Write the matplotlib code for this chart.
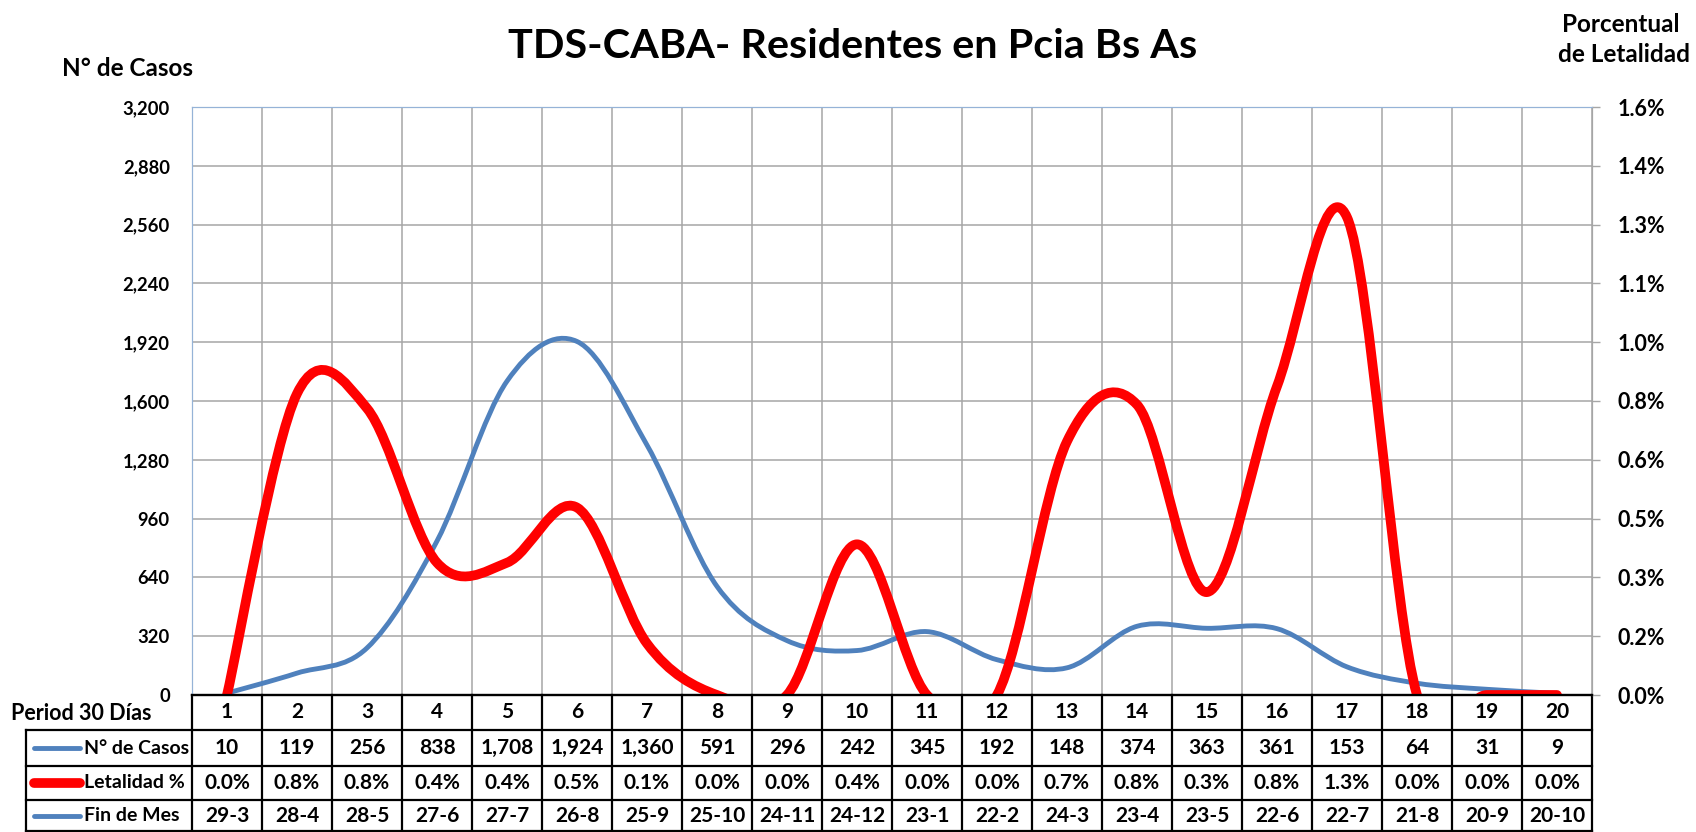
import matplotlib
matplotlib.use("Agg")
import matplotlib.pyplot as plt
from matplotlib.path import Path
from matplotlib.patches import PathPatch
from matplotlib.lines import Line2D
from matplotlib.transforms import blended_transform_factory
from matplotlib.ticker import FuncFormatter, FixedLocator
import numpy as np

plt.rcParams['font.family'] = ['Lato', 'DejaVu Sans']
plt.rcParams['font.weight'] = 'bold'

# ---------------- data ----------------
periods = list(range(1, 21))
casos = [10, 119, 256, 838, 1708, 1924, 1360, 591, 296, 242, 345, 192, 148, 374, 363, 361, 153, 64, 31, 9]
letalidad = [0.0, 0.82, 0.78, 0.36, 0.36, 0.51, 0.14, 0.0, 0.0, 0.41, 0.0, 0.0, 0.69, 0.79, 0.28, 0.84, 1.30, 0.0, 0.0, 0.0]
fin_de_mes = ["29-3", "28-4", "28-5", "27-6", "27-7", "26-8", "25-9", "25-10", "24-11", "24-12",
              "23-1", "22-2", "24-3", "23-4", "23-5", "22-6", "22-7", "21-8", "20-9", "20-10"]
left_ticks = [0, 320, 640, 960, 1280, 1600, 1920, 2240, 2560, 2880, 3200]
right_ticks = list(np.linspace(0, 1.6, 11))

title = "TDS-CABA- Residentes en Pcia Bs As"
row_labels = ["N° de Casos", "Letalidad %", "Fin de Mes"]

BLUE = "#4F81BD"
RED = "#FF0000"
GRID = "#A6A6A6"
SPINE_BLUE = "#95B3D7"

W, H = 1696, 832
fig = plt.figure(figsize=(W / 100, H / 100), dpi=100)

L, R, T, B = 192, 1592, 107, 695
ax1 = fig.add_axes([L / W, 1 - B / H, (R - L) / W, (B - T) / H])
ax2 = ax1.twinx()


def smooth_path(xs, ys):
    n = len(xs)
    verts = [(xs[0], ys[0])]
    codes = [Path.MOVETO]
    for i in range(n - 1):
        a = i - 1 if i > 0 else i
        d = i + 2 if i + 2 < n else i + 1
        c1 = (xs[i] + (xs[i + 1] - xs[a]) / 6, ys[i] + (ys[i + 1] - ys[a]) / 6)
        c2 = (xs[i + 1] - (xs[d] - xs[i]) / 6, ys[i + 1] - (ys[d] - ys[i]) / 6)
        verts += [c1, c2, (xs[i + 1], ys[i + 1])]
        codes += [Path.CURVE4] * 3
    return Path(verts, codes)


ax1.set_xlim(0.5, 20.5)
ax1.set_ylim(0, 3200)
ax2.set_ylim(0, 1.6)

ax1.add_patch(PathPatch(smooth_path(periods, casos), fill=False, edgecolor=BLUE,
                        lw=3.5, capstyle='round', joinstyle='round', zorder=3))
ax2.add_patch(PathPatch(smooth_path(periods, letalidad), fill=False, edgecolor=RED,
                        lw=7.0, capstyle='round', joinstyle='round', zorder=3))

# grid
ax1.xaxis.set_major_locator(FixedLocator(np.arange(0.5, 21, 1.0)))
ax1.set_xticklabels([])
ax1.tick_params(axis='x', length=0)
ax1.set_yticks(left_ticks)
ax1.yaxis.set_major_formatter(FuncFormatter(lambda v, p: f"{int(v):,}"))
ax1.grid(True, color=GRID, lw=1.1)
ax1.set_axisbelow(True)
ax1.tick_params(axis='y', length=0, pad=16, labelsize=13.2)

ax2.set_yticks(right_ticks)
ax2.yaxis.set_major_formatter(FuncFormatter(lambda v, p: f"{v:.1f}%"))
ax2.tick_params(axis='y', length=6, width=1, color=GRID, pad=12.5, labelsize=15.5)

for ax in (ax1, ax2):
    ax.spines['left'].set_color(SPINE_BLUE)
    ax.spines['top'].set_color(SPINE_BLUE)
    ax.spines['right'].set_color(GRID)
    ax.spines['bottom'].set_color('black')
    ax.spines['bottom'].set_linewidth(1.5)

# ---------------- data table ----------------
trans = blended_transform_factory(ax1.transData, fig.transFigure)
fy = lambda y: 1 - y / H
fx = lambda x: x / W
rows_y = [695, 730, 766, 800, 831]
lab_left = 26
lw_t = 1.6

fig.add_artist(Line2D([fx(L), fx(R)], [fy(rows_y[0])] * 2, color='black', lw=lw_t))
for y in rows_y[1:]:
    fig.add_artist(Line2D([fx(lab_left), fx(R)], [fy(y)] * 2, color='black', lw=lw_t))
for xb in np.arange(0.5, 21, 1.0):
    ax1.add_artist(Line2D([xb, xb], [fy(rows_y[0]), fy(rows_y[-1])], transform=trans,
                          color='black', lw=lw_t, clip_on=False))
fig.add_artist(Line2D([fx(lab_left)] * 2, [fy(rows_y[1]), fy(rows_y[-1])], color='black', lw=lw_t))

row_values = [
    [str(p) for p in periods],
    [f"{c:,}" for c in casos],
    [f"{v:.1f}%" for v in letalidad],
    fin_de_mes,
]
for r, vals in enumerate(row_values):
    yc = fy((rows_y[r] + rows_y[r + 1]) / 2)
    for i, v in zip(periods, vals):
        ax1.text(i, yc, v, transform=trans, ha='center', va='center', fontsize=15,
                 clip_on=False)

fig.text(fx(11), fy(713), "Period 30 Días", ha='left', va='center', fontsize=15.5)

key_colors = [BLUE, RED, BLUE]
key_lw = [3.5, 7.0, 3.5]
for r in range(3):
    yc = fy((rows_y[r + 1] + rows_y[r + 2]) / 2)
    fig.add_artist(Line2D([fx(34), fx(80)], [yc, yc], color=key_colors[r], lw=key_lw[r],
                          solid_capstyle='round'))
    fig.text(fx(84), yc, row_labels[r], ha='left', va='center', fontsize=14)

# ---------------- titles ----------------
fig.text(fx(853), fy(47), title, ha='center', va='center', fontsize=29.8)
fig.text(fx(128), fy(69), "N° de Casos", ha='center', va='center', fontsize=17.5)
fig.text(fx(1621), fy(24), "Porcentual", ha='center', va='center', fontsize=17.5)
fig.text(fx(1624), fy(54), "de Letalidad", ha='center', va='center', fontsize=17.5)

fig.savefig("out.png", dpi=100)
